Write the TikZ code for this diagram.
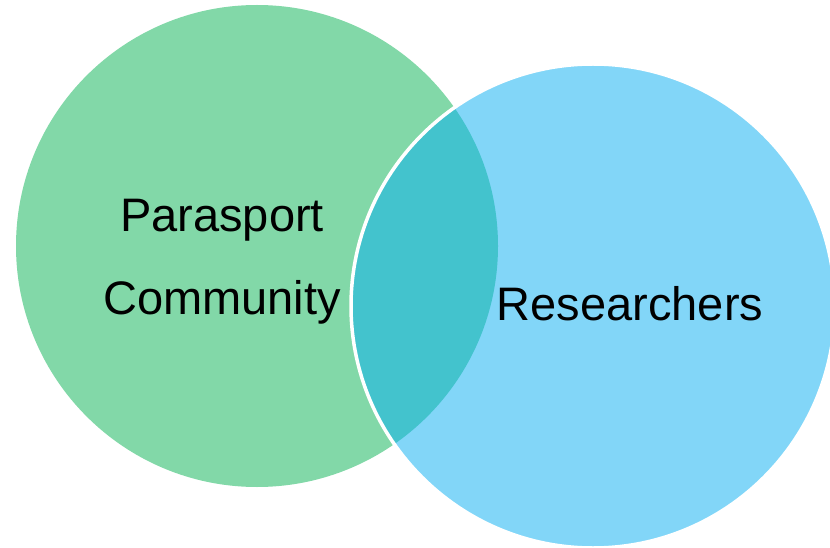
\documentclass[tikz,border=0pt]{standalone}
\usepackage{fontspec}
\setmainfont{Liberation Sans}
\definecolor{greenc}{HTML}{82D8A8}
\definecolor{bluec}{HTML}{82D6F8}
\definecolor{tealc}{HTML}{43C3CD}
\begin{document}
\begin{tikzpicture}[x=1pt,y=-1pt,
  lbl/.style={anchor=base,inner sep=0pt,font=\fontsize{47}{56}\selectfont}]
\useasboundingbox (0,0) rectangle (830,548);
\fill[greenc] (257,246) circle[radius=241];
\fill[bluec] (593,306) circle[radius=241];
\begin{scope}
  \clip (257,246) circle[radius=241];
  \fill[tealc] (593,306) circle[radius=241];
\end{scope}
\draw[white,line width=3.5pt] (593,306) circle[radius=242];
\node[lbl] (p) at (222,232) {Parasport};
\node[lbl] (c) at (222,314) {Community};
\node[lbl] (r) at (630,320) {Researchers};
\end{tikzpicture}
\end{document}
